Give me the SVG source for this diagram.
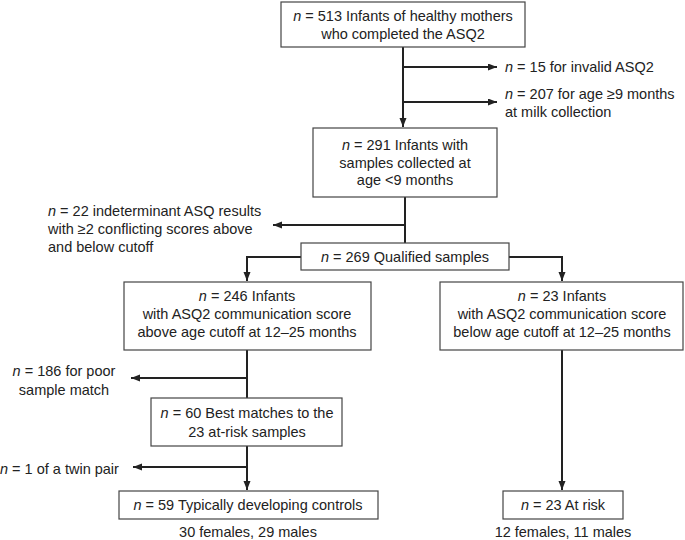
<svg xmlns="http://www.w3.org/2000/svg" width="685" height="540" viewBox="0 0 685 540">
<defs>
<marker id="ah" markerUnits="userSpaceOnUse" markerWidth="10" markerHeight="8" refX="9" refY="3.5" orient="auto">
<path d="M0,0 L9,3.5 L0,7 z" fill="#222"/>
</marker>
<style>
.box{fill:#fff;stroke:#444;stroke-width:1.2}
.t{font-family:"Liberation Sans",Arial,sans-serif;font-size:14.5px;fill:#222}
.c{text-anchor:middle}
.i{font-style:italic}
.con{fill:none;stroke:#222;stroke-width:2}
.arr{fill:none;stroke:#222;stroke-width:2;marker-end:url(#ah)}
</style>
</defs>
<rect width="685" height="540" fill="#fff"/>
<g id="connectors">
<path class="arr" d="M403,47 V127"/>
<path class="arr" d="M403,67 H497"/>
<path class="arr" d="M403,102 H497"/>
<path class="con" d="M405,197 V243"/>
<path class="arr" d="M405,225 H273"/>
<path class="arr" d="M301,257 H247 V281"/>
<path class="arr" d="M509,257 H562 V281"/>
<path class="con" d="M247,350 V398"/>
<path class="arr" d="M247,378 H131"/>
<path class="arr" d="M247,446 V490"/>
<path class="arr" d="M247,467 H133"/>
<path class="arr" d="M562,350 V490"/>
</g>
<g id="n513">
<rect class="box" x="281" y="2" width="244" height="45"/>
<text class="t c" x="403" y="21"><tspan class="i">n</tspan> = 513 Infants of healthy mothers</text>
<text class="t c" x="403" y="39">who completed the ASQ2</text>
</g>
<g id="ex15">
<text class="t" x="505" y="72"><tspan class="i">n</tspan> = 15 for invalid ASQ2</text>
</g>
<g id="ex207">
<text class="t" x="505" y="99"><tspan class="i">n</tspan> = 207 for age ≥9 months</text>
<text class="t" x="505" y="117">at milk collection</text>
</g>
<g id="n291">
<rect class="box" x="313" y="128" width="184" height="69"/>
<text class="t c" x="405" y="150"><tspan class="i">n</tspan> = 291 Infants with</text>
<text class="t c" x="405" y="168">samples collected at</text>
<text class="t c" x="405" y="185">age &lt;9 months</text>
</g>
<g id="ex22">
<text class="t" x="48" y="216"><tspan class="i">n</tspan> = 22 indeterminant ASQ results</text>
<text class="t" x="48" y="234">with ≥2 conflicting scores above</text>
<text class="t" x="48" y="252">and below cutoff</text>
</g>
<g id="n269">
<rect class="box" x="301" y="243" width="208" height="27"/>
<text class="t c" x="405" y="262"><tspan class="i">n</tspan> = 269 Qualified samples</text>
</g>
<g id="n246">
<rect class="box" x="124" y="282" width="247" height="68"/>
<text class="t c" x="247" y="301"><tspan class="i">n</tspan> = 246 Infants</text>
<text class="t c" x="247" y="319">with ASQ2 communication score</text>
<text class="t c" x="247" y="337">above age cutoff at 12–25 months</text>
</g>
<g id="n23i">
<rect class="box" x="440" y="282" width="243" height="68"/>
<text class="t c" x="562" y="301"><tspan class="i">n</tspan> = 23 Infants</text>
<text class="t c" x="562" y="319">with ASQ2 communication score</text>
<text class="t c" x="562" y="337">below age cutoff at 12–25 months</text>
</g>
<g id="ex186">
<text class="t c" x="64" y="376"><tspan class="i">n</tspan> = 186 for poor</text>
<text class="t c" x="64" y="395">sample match</text>
</g>
<g id="n60">
<rect class="box" x="151" y="398" width="191" height="48"/>
<text class="t c" x="247" y="418"><tspan class="i">n</tspan> = 60 Best matches to the</text>
<text class="t c" x="247" y="437">23 at-risk samples</text>
</g>
<g id="ex1">
<text class="t" x="0" y="474"><tspan class="i">n</tspan> = 1 of a twin pair</text>
</g>
<g id="n59">
<rect class="box" x="119" y="491" width="259" height="28"/>
<text class="t c" x="248" y="510"><tspan class="i">n</tspan> = 59 Typically developing controls</text>
<text class="t c" x="248" y="537">30 females, 29 males</text>
</g>
<g id="n23r">
<rect class="box" x="503" y="491" width="120" height="28"/>
<text class="t c" x="563" y="510"><tspan class="i">n</tspan> = 23 At risk</text>
<text class="t c" x="563" y="537">12 females, 11 males</text>
</g>
</svg>
